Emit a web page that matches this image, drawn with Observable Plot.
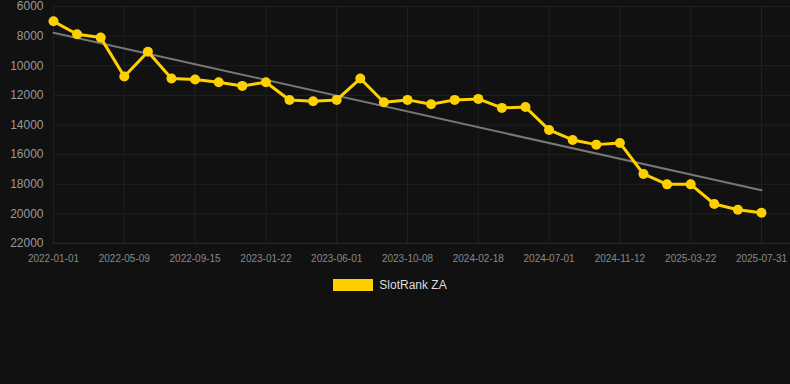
<!DOCTYPE html>
<html>
<head>
<meta charset="utf-8">
<script src="https://cdn.jsdelivr.net/npm/d3@7"></script>
<script src="https://cdn.jsdelivr.net/npm/@observablehq/plot@0.6"></script>
<style>
  html, body { margin: 0; padding: 0; background: #111111; }
  body { width: 790px; height: 384px; overflow: hidden; font-family: "Liberation Sans", Arial, sans-serif; }
  #legend { display: flex; justify-content: center; align-items: center; margin-top: 8px; padding-right: 10px; }
  #legend .sw { width: 40px; height: 12px; background: #FFD000; margin-right: 6px; }
  #legend .lb { color: #dddddd; font-size: 12px; }
</style>
</head>
<body>
<div id="chart"></div>
<div id="legend"><div class="sw"></div><div class="lb">SlotRank ZA</div></div>
<script>
const dates = [
  "2022-01-01","2022-02-13","2022-03-28","2022-05-09","2022-06-21","2022-08-03",
  "2022-09-15","2022-10-28","2022-12-10","2023-01-22","2023-03-05","2023-04-18",
  "2023-06-01","2023-07-14","2023-08-26","2023-10-08","2023-11-21","2024-01-05",
  "2024-02-18","2024-04-01","2024-05-16","2024-07-01","2024-08-14","2024-09-28",
  "2024-11-12","2024-12-25","2025-02-06","2025-03-22","2025-05-04","2025-06-17",
  "2025-07-31"
];
const ranks = [
  7000, 7870, 8100, 10730, 9060, 10865,
  10933, 11115, 11360, 11115, 12310, 12400,
  12305, 10865, 12466, 12305, 12600, 12305,
  12237, 12845, 12790, 14332, 15007, 15325,
  15211, 17306, 18007, 18007, 19332, 19717,
  19920
];
const yTicks = [6000, 8000, 10000, 12000, 14000, 16000, 18000, 20000, 22000];
const xTickIdx = [0, 3, 6, 9, 12, 15, 18, 21, 24, 27, 30];

const data = dates.map((d, i) => ({i, date: d, rank: ranks[i]}));

const chart = Plot.plot({
  width: 790,
  height: 270,
  marginTop: 6,
  marginBottom: 27,
  marginLeft: 53,
  marginRight: 0,
  style: {background: "#111111", fontFamily: "Liberation Sans, Arial, sans-serif"},
  x: {domain: [0, 31.23], ticks: xTickIdx, tickFormat: i => dates[i], label: null},
  y: {domain: [6000, 22000], reverse: true, ticks: yTicks, tickFormat: d => String(d), label: null},
  marks: [
    Plot.gridX(xTickIdx, {stroke: "#202020", strokeOpacity: 1}),
    Plot.gridY(yTicks, {stroke: "#202020", strokeOpacity: 1}),
    Plot.ruleY([22000], {stroke: "#2a2a2a"}),
    Plot.axisY({ticks: yTicks, tickFormat: d => String(d), tickSize: 0, tickPadding: 10, fontSize: 12, color: "#999999", label: null}),
    Plot.axisX({ticks: xTickIdx, tickFormat: i => dates[i], tickSize: 0, tickPadding: 11, fontSize: 10, color: "#888888", label: null}),
    Plot.linearRegressionY(data, {x: "i", y: "rank", ci: 0, stroke: "#777777", strokeWidth: 2}),
    Plot.line(data, {x: "i", y: "rank", stroke: "#FFD000", strokeWidth: 3}),
    Plot.dot(data, {x: "i", y: "rank", r: 5, fill: "#FFD000", stroke: "none"})
  ]
});
document.getElementById("chart").appendChild(chart);
</script>
</body>
</html>
